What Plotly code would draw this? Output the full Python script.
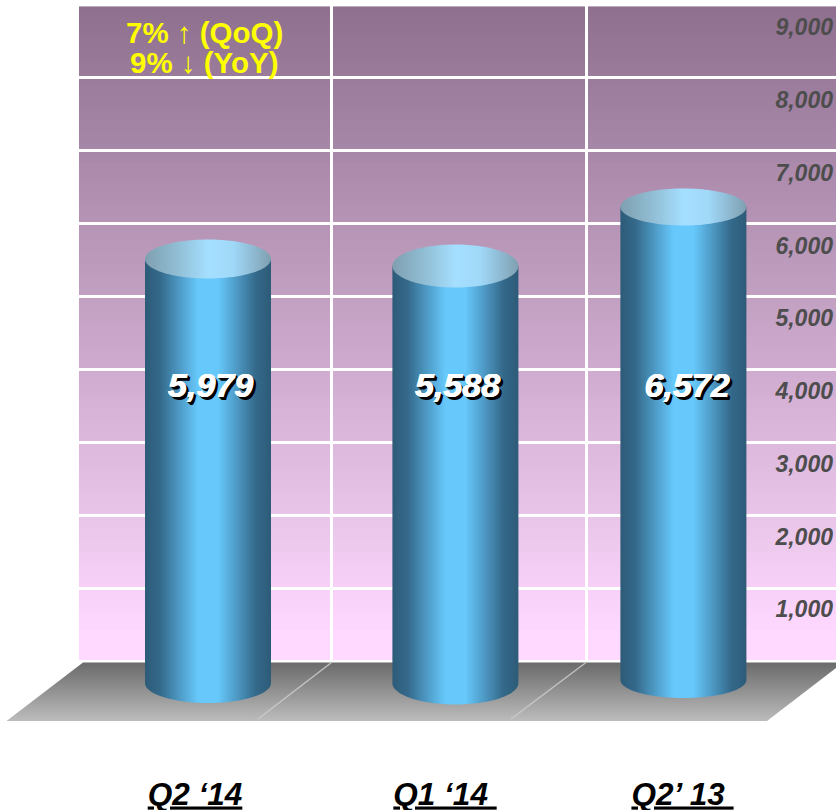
import numpy as np
import plotly.graph_objects as go

# ---- data ----
categories = ["Q2 \u201814", "Q1 \u201814\u00a0", "Q2\u2019 13\u00a0"]
values = [5979, 5588, 6572]
value_labels = ["5,979", "5,588", "6,572"]
# where each cylinder visibly stands against the right-hand scale
cylinder_tops = [5842, 5746, 6557]
cylinder_bases = [14, 14, 55]
axis_ticks = [1000, 2000, 3000, 4000, 5000, 6000, 7000, 8000, 9000]
notes = ["7% \u2191 (QoQ)", "9% \u2193 (YoY)"]

# ---- layout geometry (pixels of the 836x810 canvas) ----
W, H = 836, 810
PLOT_BOTTOM = 772
WALL_L = 79
WALL_TOP_PX, WALL_BOT_PX = 6, 661
GRADIENT_END_PX = 630
FLOOR_TOP_PX, FLOOR_BOT_PX = 662.5, 721
WALL_ZERO_PX, WALL_PX_PER_1000 = 661, 72.9
FRONT_ZERO_PX, FRONT_PX_PER_1000 = 684, 72.75
CYL_X = [208, 455.4, 683.4]
CYL_HALF = 63
CYL_RY_TOP = [19.5, 21.5, 18.5]
CYL_RY_BOT = [20, 21.5, 18]
LABEL_X = [195, 445, 682.5]
VALUE_X = [210.5, 457.5, 687]
VALUE_PX = 388
WALL_GRID_X = [331.5, 586]


def wall_val(px):
    return (WALL_ZERO_PX - px) / WALL_PX_PER_1000 * 1000


def front_val(px):
    return (FRONT_ZERO_PX - px) / FRONT_PX_PER_1000 * 1000


def ry_val(px):
    return px / FRONT_PX_PER_1000 * 1000


BODY_SCALE = [[0, "#2d5b78"], [0.12, "#34698a"], [0.28, "#4f9cc8"], [0.42, "#66c8fb"],
              [0.58, "#66c8fb"], [0.72, "#4f9cc8"], [0.88, "#34698a"], [1, "#2d5b78"]]
LID_SCALE = [[0, "#7f9fb0"], [0.25, "#90bdd3"], [0.5, "#a5dfff"], [0.7, "#a0d8f8"], [1, "#7f9fb0"]]
FLOOR_SCALE = [[0, "#bcbcbc"], [1, "#6a6a6a"]]

fig = go.Figure()

# wall gradient (under the grid lines)
shapes = []
band = 6
top_rgb = np.array([0x8f, 0x70, 0x8f])
bot_rgb = np.array([0xff, 0xd9, 0xff])
for p in np.arange(WALL_TOP_PX, WALL_BOT_PX, band):
    t = min(1, (p - WALL_TOP_PX) / (GRADIENT_END_PX - WALL_TOP_PX))
    r, g, b = (top_rgb + (bot_rgb - top_rgb) * t).astype(int)
    shapes.append(dict(type="rect", layer="below", xref="x", yref="y",
                       x0=WALL_L, x1=W, y0=wall_val(p), y1=wall_val(min(p + band + 0.5, WALL_BOT_PX)),
                       fillcolor=f"rgb({r},{g},{b})", line_width=0))
shapes.append(dict(type="rect", layer="below", xref="x", yref="y", x0=WALL_L, x1=W,
                   y0=wall_val(5.5), y1=wall_val(6.8), fillcolor="#cbbccb", line_width=0))

# invisible anchor so the wall subplot exists
fig.add_trace(go.Scatter(x=[WALL_L, W], y=[0, 0], mode="lines", line=dict(color="rgba(0,0,0,0)"),
                         xaxis="x", yaxis="y", showlegend=False, hoverinfo="skip"))

# floor
fig.add_trace(go.Scatter(
    x=[83, 843, 767, 6.5, 83],
    y=[front_val(FLOOR_TOP_PX)] * 2 + [front_val(FLOOR_BOT_PX)] * 2 + [front_val(FLOOR_TOP_PX)],
    mode="none", fill="toself", xaxis="x2", yaxis="y2", showlegend=False, hoverinfo="skip",
    fillgradient=dict(type="vertical", colorscale=FLOOR_SCALE)))
for gx, bx in zip(WALL_GRID_X, [258, 511]):
    fig.add_trace(go.Scatter(x=[gx, bx], y=[front_val(FLOOR_TOP_PX), front_val(719)], mode="lines",
                             line=dict(color="rgba(205,205,205,0.85)", width=1.5),
                             xaxis="x2", yaxis="y2", showlegend=False, hoverinfo="skip"))

# cylinders
th = np.linspace(0, np.pi, 60)
for cx, top, base, ryt, ryb in zip(CYL_X, cylinder_tops, cylinder_bases, CYL_RY_TOP, CYL_RY_BOT):
    # body: straight sides, bottom edge follows the front of the base ellipse
    xs = np.concatenate([[cx - CYL_HALF], cx - CYL_HALF * np.cos(th), [cx + CYL_HALF, cx - CYL_HALF]])
    ys = np.concatenate([[top], base - ry_val(ryb) * np.sin(th), [top, top]])
    fig.add_trace(go.Scatter(x=xs, y=ys, mode="none", fill="toself", xaxis="x2", yaxis="y2",
                             showlegend=False, hoverinfo="skip",
                             fillgradient=dict(type="horizontal", colorscale=BODY_SCALE)))
    t2 = np.linspace(0, 2 * np.pi, 120)
    fig.add_trace(go.Scatter(x=cx + CYL_HALF * np.cos(t2), y=top + ry_val(ryt) * np.sin(t2),
                             mode="none", fill="toself", xaxis="x2", yaxis="y2",
                             showlegend=False, hoverinfo="skip",
                             fillgradient=dict(type="horizontal", colorscale=LID_SCALE)))

# value labels
fig.add_trace(go.Scatter(
    x=VALUE_X, y=[front_val(VALUE_PX)] * 3, text=value_labels, customdata=values,
    mode="text", xaxis="x2", yaxis="y2", showlegend=False, hoverinfo="skip",
    textfont=dict(family="Liberation Sans", size=34, color="#ffffff", weight="bold", style="italic",
                  shadow="0.6px 0 0 #fff, -0.4px 0 0 #fff, 3px 3px 0 #000, 2px 2px 0 #000, 1px 1px 0 #000")))

annotations = [
    dict(text=f"<b>{t}</b>", x=204.5, y=1 - py / PLOT_BOTTOM, xref="x2", yref="paper", showarrow=False,
         yanchor="middle", font=dict(family="Liberation Sans", size=29.5, color="#ffff00"))
    for t, py in zip(notes, [32, 63])
]

fig.update_layout(
    width=W, height=H, margin=dict(l=0, r=0, t=0, b=H - PLOT_BOTTOM, pad=0, autoexpand=False),
    paper_bgcolor="white", plot_bgcolor="rgba(0,0,0,0)", showlegend=False,
    shapes=shapes, annotations=annotations,
    xaxis=dict(domain=[WALL_L / W, 1], range=[WALL_L, W], tickvals=WALL_GRID_X, showticklabels=False,
               showgrid=True, gridcolor="white", gridwidth=2.5, zeroline=False, showline=False, anchor="y"),
    yaxis=dict(domain=[0, 1], range=[wall_val(PLOT_BOTTOM), wall_val(0)], tickvals=[0] + axis_ticks,
               showticklabels=False, showgrid=True, gridcolor="white", gridwidth=2.5, zeroline=False,
               showline=False, anchor="x"),
    xaxis2=dict(domain=[0, 1], range=[0, W], tickvals=LABEL_X, automargin=False,
                ticktext=[f"<u>{c}</u>" for c in categories], showgrid=False, zeroline=False, showline=False,
                anchor="y2", ticks="", ticklabelstandoff=0,
                tickfont=dict(family="Liberation Sans", size=31.5, color="#000000", weight="bold", style="italic")),
    yaxis2=dict(domain=[0, 1], range=[front_val(PLOT_BOTTOM), front_val(0)], tickvals=axis_ticks,
                tickformat=",d", side="right", ticklabelposition="inside", showgrid=False, zeroline=False,
                showline=False, anchor="x2", ticks="", automargin=False, ticklabelshift=-2,
                tickfont=dict(family="Liberation Sans", size=23, color="#4d4d4d", weight="bold", style="italic")),
)

fig.write_html("out.html", config={"displayModeBar": False},
               post_script="document.body.style.margin='0';document.body.style.overflow='hidden';")
